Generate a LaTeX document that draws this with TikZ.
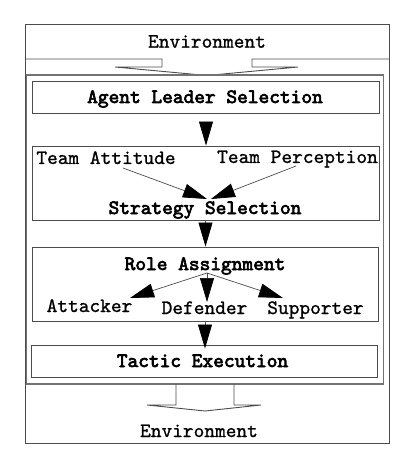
\documentclass[tikz,border=0pt]{standalone}
\usepackage{fontspec}
\newfontfamily\tmono[FakeBold=1]{lmmono10-regular.otf}
\newfontfamily\tmonob[FakeBold=3.2]{lmmono10-regular.otf}
\usetikzlibrary{arrows.meta,calc}
\tikzset{
  ln/.style={draw=black!70, line width=0.9pt},
  frame/.style={ln, rectangle, inner sep=0pt},
  lbl/.style={font={\tmono\fontsize{20.4}{22}\selectfont}, inner sep=0pt, anchor=base},
  blbl/.style={lbl, font={\tmonob\fontsize{20.4}{22}\selectfont}},
  arr/.style={draw=black!70, line width=0.7pt, -{Triangle[length=24pt,width=14pt,color=black]}},
}
\begin{document}
\begin{tikzpicture}[x=1pt,y=-1pt]
\path[use as bounding box] (0,0) rectangle (410,465);
% outer frame
\node[frame, minimum width=364pt, minimum height=419pt] (outer) at (207,233.5) {};
% separator and top block arrow
\draw[ln] (25,59) -- (162,59) -- (162,67) -- (115,67) -- (207,75.5) -- (298,67) -- (252,67) -- (252,59) -- (389,59);
% inner frame
\node[frame, draw=black!55, line width=1.6pt, minimum width=357pt, minimum height=309pt] (inner) at (205,229.5) {};
% boxes
\node[frame, minimum width=347pt, minimum height=32pt] (als) at (206,97) {};
\node[frame, minimum width=347pt, minimum height=74pt] (ss) at (205.5,183) {};
\node[frame, minimum width=346pt, minimum height=74pt] (ra) at (205,284) {};
\node[frame, minimum width=346pt, minimum height=32pt] (te) at (204,361) {};
% bottom block arrow
\draw[ln] (176,384) -- (176,405) -- (147,405) -- (205,411) -- (261,405) -- (234,405) -- (234,384);
% texts
\node[lbl] (envT) at (207,47.7) {Environment};
\node[blbl] (alsT) at (205,103) {Agent Leader Selection};
\node[lbl] (ta) at (106,164) {Team Attitude};
\node[lbl] (tp) at (297.5,163) {Team Perception};
\node[blbl] (ssT) at (205,214) {Strategy Selection};
\node[blbl] (raT) at (205,270) {Role Assignment};
\node[lbl] (att) at (89.5,312) {Attacker};
\node[lbl] (def) at (204.5,314) {Defender};
\node[lbl] (sup) at (315.5,314) {Supporter};
\node[blbl] (teT) at (202.5,367) {Tactic Execution};
\node[lbl] (envB) at (199,437) {Environment};
% connector coordinates
\coordinate (taS) at (123,168);
\coordinate (tpS) at (296,166);
\coordinate (ssL) at (207,199);
\coordinate (ssR) at (211,199);
\coordinate (raS) at (207,273);
\coordinate (attT) at (130,298);
\coordinate (defT) at (207,302);
\coordinate (supT) at (283,298);
% arrows
\draw[arr, shorten <=10pt] (als.south) -- (als.south |- ss.north);
\draw[arr] (ss.south) -- (ss.south |- ra.north);
\draw[arr, shorten >=-4pt] (ra.south) -- (ra.south |- te.north);
\draw[arr] (taS) -- (ssL);
\draw[arr] (tpS) -- (ssR);
\draw[arr] (raS) -- (attT);
\draw[arr] (raS) -- (defT);
\draw[arr] (raS) -- (supT);
\end{tikzpicture}
\end{document}
